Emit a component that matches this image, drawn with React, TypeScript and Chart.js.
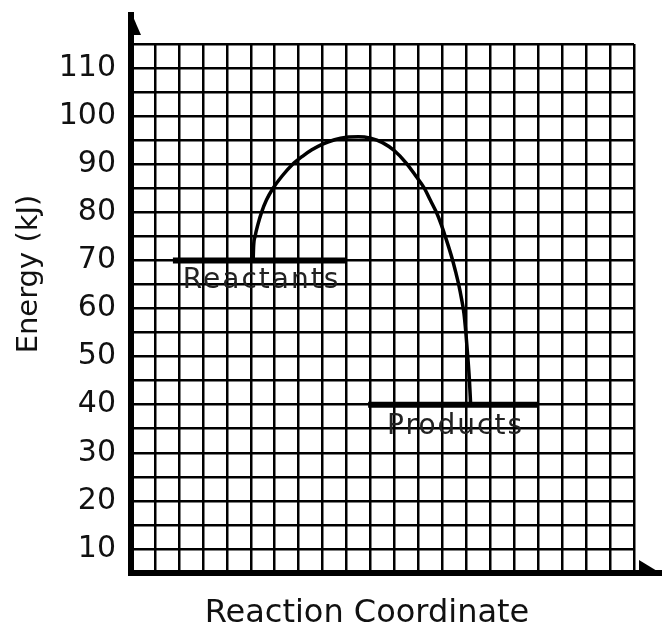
import React, { useEffect, useRef } from 'react';
import { Chart, registerables } from 'chart.js';

Chart.register(...registerables);

// ---- data ----
const curveX = [5.1, 5.12, 5.18, 5.3, 5.45, 5.65, 5.93, 6.3, 6.75, 7.2, 7.55, 8.0, 8.5, 9.0, 9.5, 10.0, 10.5, 11.0, 11.5, 11.9, 12.25, 12.5, 12.75, 12.95, 13.12, 13.28, 13.43, 13.56, 13.68, 13.8, 13.9, 13.98, 14.06, 14.13, 14.18];
const curveY = [70, 73, 75, 77.5, 80, 82.5, 85, 87.5, 90, 91.8, 93, 94.2, 95.1, 95.6, 95.7, 95.4, 94.5, 92.8, 90.2, 87.5, 85, 82.5, 80, 77.5, 75, 72.5, 70, 67.5, 65, 62, 59, 55, 50, 45, 40];
const reactantsX = [1.75, 9];
const reactantsY = [70, 70];
const productsX = [9.9, 17];
const productsY = [40, 40];
const yTickLabels = [10, 20, 30, 40, 50, 60, 70, 80, 90, 100, 110];
const levelLabels = ['Reactants', 'Products'];
const levelLabelX = [5.45, 13.55];
const levelLabelY = [64.3, 34.0];
const xTitle = 'Reaction Coordinate';
const yTitle = 'Energy (kJ)';

const FONT = '"DejaVu Sans", Verdana, sans-serif';

const toPts = (xs: number[], ys: number[]) => xs.map((x, i) => ({ x, y: ys[i] }));

const decorPlugin = {
  id: 'decor',
  afterDraw(chart: any) {
    const { ctx, chartArea } = chart;
    const xs = chart.scales.x;
    const ys = chart.scales.y;
    ctx.save();
    // level labels
    ctx.fillStyle = '#222';
    ctx.font = `28px ${FONT}`;
    (ctx as any).letterSpacing = '2px';
    ctx.textAlign = 'center';
    ctx.textBaseline = 'alphabetic';
    levelLabels.forEach((t, i) => {
      ctx.fillText(t, xs.getPixelForValue(levelLabelX[i]), ys.getPixelForValue(levelLabelY[i]));
    });
    (ctx as any).letterSpacing = '0px';

    // axis extensions with half arrowheads
    ctx.fillStyle = '#000';
    const L = chartArea.left;
    const B = chartArea.bottom;
    ctx.fillRect(L - 3, 12, 6, chartArea.top - 12 + 2);
    ctx.beginPath();
    ctx.moveTo(L, 12);
    ctx.lineTo(L + 10, 35);
    ctx.lineTo(L, 35);
    ctx.closePath();
    ctx.fill();
    ctx.fillRect(chartArea.right - 2, B - 3, chart.width - chartArea.right + 2, 6);
    ctx.beginPath();
    ctx.moveTo(chartArea.right + 5, B - 13);
    ctx.lineTo(chart.width, B + 1);
    ctx.lineTo(chartArea.right + 5, B + 1);
    ctx.closePath();
    ctx.fill();

    // axis titles
    ctx.fillStyle = '#111';
    ctx.textBaseline = 'alphabetic';
    ctx.textAlign = 'center';
    ctx.font = `32px ${FONT}`;
    ctx.fillText(xTitle, 367, 622);
    ctx.translate(37, 274);
    ctx.rotate(-Math.PI / 2);
    ctx.font = `29px ${FONT}`;
    ctx.fillText(yTitle, 0, 0);
    ctx.restore();
  },
};

export default function App() {
  const ref = useRef<HTMLCanvasElement | null>(null);
  useEffect(() => {
    if (!ref.current) return;
    const chart = new Chart(ref.current, {
      type: 'scatter',
      data: {
        datasets: [
          { data: toPts(reactantsX, reactantsY), showLine: true, borderColor: '#000', borderWidth: 6, pointRadius: 0, borderCapStyle: 'butt' },
          { data: toPts(productsX, productsY), showLine: true, borderColor: '#000', borderWidth: 6, pointRadius: 0, borderCapStyle: 'butt' },
          { data: toPts(curveX, curveY), showLine: true, borderColor: '#000', borderWidth: 3.5, pointRadius: 0, cubicInterpolationMode: 'monotone' },
        ],
      },
      options: {
        animation: false,
        responsive: true,
        maintainAspectRatio: false,
        devicePixelRatio: 1,
        layout: { padding: { left: 0, top: 44, right: 28, bottom: 0 } },
        plugins: { legend: { display: false }, tooltip: { enabled: false } },
        scales: {
          x: {
            type: 'linear',
            min: 0,
            max: 21,
            ticks: { stepSize: 1, display: false },
            grid: { color: '#000', lineWidth: 2.5, drawTicks: false },
            border: { color: '#000', width: 6 },
            afterFit: (s: any) => { s.height = 53; },
          },
          y: {
            type: 'linear',
            min: 5,
            max: 115,
            ticks: {
              stepSize: 5,
              autoSkip: false,
              padding: 15,
              color: '#111',
              font: { family: FONT, size: 30 },
              callback: (v: any) => (yTickLabels.includes(Number(v)) ? String(v) : ''),
            },
            grid: { color: '#000', lineWidth: 2.5, drawTicks: false },
            border: { color: '#000', width: 6 },
            afterFit: (s: any) => { s.width = 131; },
          },
        },
      },
      plugins: [decorPlugin],
    });
    return () => chart.destroy();
  }, []);
  return (
    <div style={{ position: 'fixed', left: 0, top: 0, width: 662, height: 626, background: '#fff' }}>
      <canvas ref={ref} />
    </div>
  );
}
